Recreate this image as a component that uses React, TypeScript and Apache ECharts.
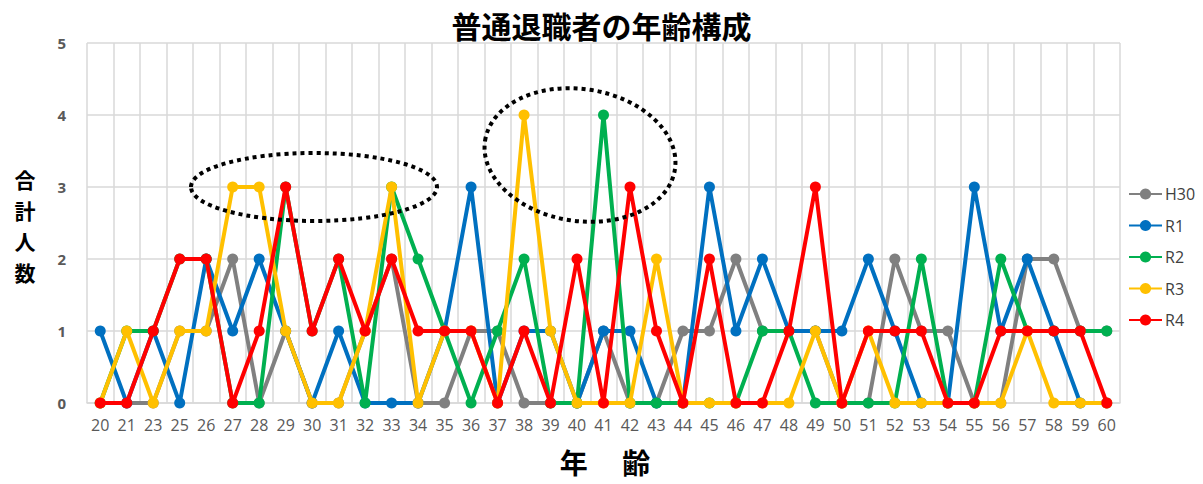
import React, { useEffect, useRef } from "react";
import * as echarts from "echarts";

const categories = ["20","21","23","25","26","27","28","29","30","31","32","33","34","35","36","37","38","39","40","41","42","43","44","45","46","47","48","49","50","51","52","53","54","55","56","57","58","59","60"];
const yTicks = [0, 1, 2, 3, 4, 5];
const seriesNames = ["H30", "R1", "R2", "R3", "R4"];
const h30 = [0,0,0,1,1,2,0,1,0,0,1,2,0,0,1,1,0,0,0,1,0,0,1,1,2,1,1,1,0,0,2,1,1,0,0,2,2,1,1];
const r1 = [1,0,1,0,2,1,2,1,0,1,0,0,0,1,3,0,1,1,0,1,1,0,0,3,1,2,1,1,1,2,1,0,0,3,1,2,1,0,0];
const r2 = [0,1,1,2,2,0,0,3,1,2,0,3,2,1,0,1,2,0,0,4,0,0,0,0,0,1,1,0,0,0,0,2,0,0,2,1,1,1,1];
const r3 = [0,1,0,1,1,3,3,1,0,0,1,3,0,1,1,0,4,1,0,0,0,2,0,0,0,0,0,1,0,1,0,0,0,0,0,1,0,0,0];
const r4 = [0,0,1,2,2,0,1,3,1,2,1,2,1,1,1,0,1,0,2,0,3,1,0,2,0,0,1,3,0,1,1,1,0,0,1,1,1,1,0];
const seriesData = [h30, r1, r2, r3, r4];
const colors = ["#808080", "#0070C0", "#00B050", "#FFC000", "#FF0000"];
const yNameChars = ["合", "計", "人", "数"];

const FONT = "'Noto Sans CJK JP', 'Noto Sans', sans-serif";

export default function App() {
  const ref = useRef<HTMLDivElement>(null);
  useEffect(() => {
    if (!ref.current) return;
    const chart = echarts.init(ref.current, undefined, { renderer: "svg" });
    chart.setOption({
      animation: false,
      backgroundColor: "#ffffff",
      title: {
        text: "普通退職者の年齢構成",
        left: "center",
        top: 3,
        textStyle: { fontSize: 30, fontWeight: "bold", color: "#000", fontFamily: FONT, lineHeight: 34 },
      },
      legend: {
        orient: "vertical",
        left: 1123,
        top: 181,
        itemWidth: 33,
        itemHeight: 14,
        itemGap: 15.5,
        data: seriesNames,
        textStyle: { fontSize: 16, color: "#404040", fontFamily: "'Open Sans', sans-serif", padding: [0, 0, 0, -2] },
      },
      grid: { left: 87, right: 83, top: 43, bottom: 81, containLabel: false },
      xAxis: {
        type: "category",
        data: categories,
        boundaryGap: true,
        axisTick: { show: false },
        axisLine: { show: true, lineStyle: { color: "#d9d9d9", width: 1.5 } },
        axisLabel: { color: "#595959", fontSize: 16, margin: 14, interval: 0, fontFamily: "'Open Sans', sans-serif" },
        splitLine: { show: true, interval: 0, lineStyle: { color: "#d9d9d9", width: 1.5 } },
      },
      yAxis: {
        type: "value",
        min: yTicks[0],
        max: yTicks[yTicks.length - 1],
        interval: 1,
        axisLine: { show: false },
        axisTick: { show: false },
        axisLabel: { color: "#595959", fontSize: 15, fontWeight: "bold", margin: 21, fontFamily: "'Open Sans', sans-serif" },
        splitLine: { show: true, lineStyle: { color: "#d9d9d9", width: 1.5 } },
      },
      graphic: [
        ...yNameChars.map((ch, i) => ({
          type: "text",
          x: 25,
          y: 179 + i * 31,
          style: {
            text: ch,
            fontSize: 21,
            lineHeight: 22,
            fontWeight: "bold",
            fill: "#000",
            fontFamily: FONT,
            align: "center",
            verticalAlign: "middle",
          },
        })),
        {
          type: "text",
          x: 605,
          y: 462,
          style: {
            text: "年　 齢",
            fontSize: 28,
            lineHeight: 28,
            fontWeight: "bold",
            fill: "#000",
            fontFamily: FONT,
            align: "center",
            verticalAlign: "middle",
          },
        },
        {
          type: "ellipse",
          z: 100,
          shape: { cx: 314, cy: 187, rx: 123, ry: 34 },
          style: { fill: "none", stroke: "#000", lineWidth: 4, lineDash: [4, 4] },
        },
        {
          type: "ellipse",
          z: 100,
          x: 580,
          y: 155,
          rotation: -0.15,
          shape: { cx: 0, cy: 0, rx: 96, ry: 66 },
          style: { fill: "none", stroke: "#000", lineWidth: 4, lineDash: [4, 4] },
        },
      ],
      series: seriesNames.map((name, i) => ({
        name,
        type: "line",
        data: seriesData[i],
        symbol: "circle",
        symbolSize: 11,
        showAllSymbol: true,
        color: colors[i],
        lineStyle: { width: 4, color: colors[i] },
        itemStyle: { color: colors[i] },
        z: 2 + i,
      })),
    });
    return () => chart.dispose();
  }, []);
  return (
    <div
      ref={ref}
      style={{ position: "fixed", left: 0, top: 0, width: 1203, height: 484 }}
    />
  );
}
